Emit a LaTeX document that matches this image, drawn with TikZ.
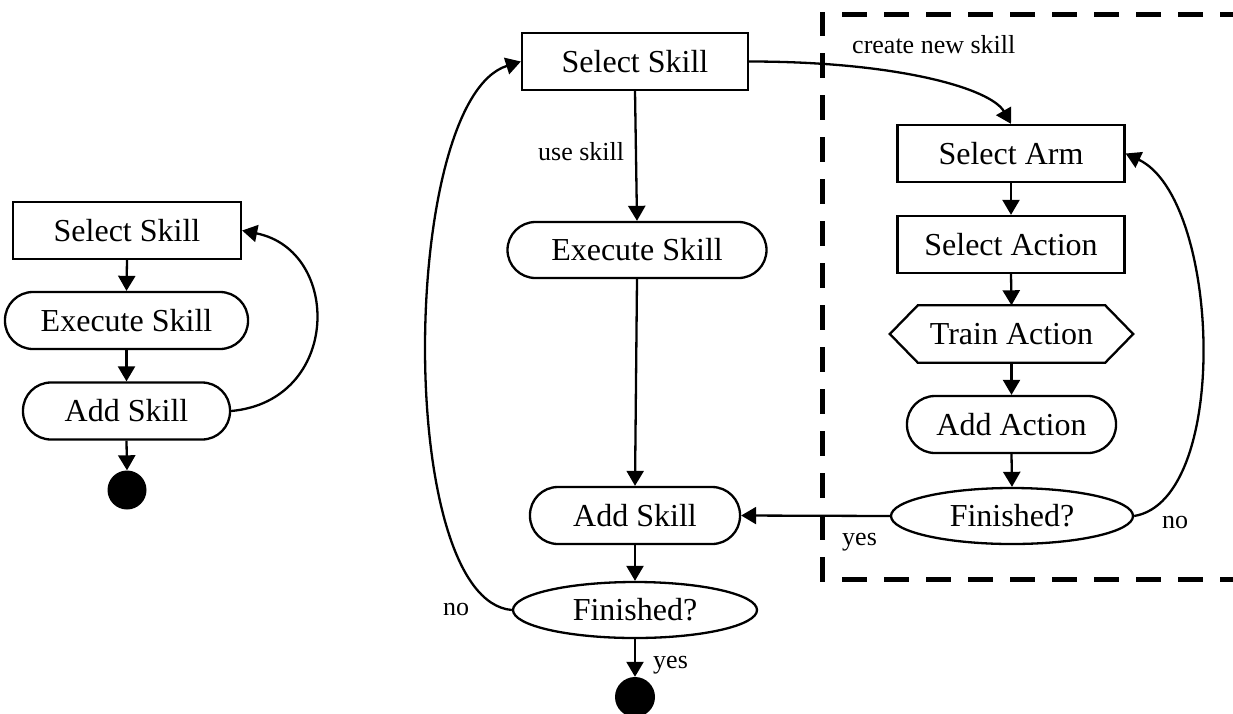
\documentclass[tikz,border=0pt]{standalone}
\usepackage{fontspec}
\setmainfont{Liberation Serif}
\usetikzlibrary{arrows.meta,shapes.geometric}
\begin{document}
\begin{tikzpicture}[x=1pt,y=-1pt,
  every node/.style={font=\fontsize{32}{38}\selectfont, inner sep=0pt},
  box/.style={draw, line width=2.3pt, minimum width=227pt, minimum height=57pt},
  pill/.style={box, rounded corners=28pt},
  oval/.style={draw, ellipse, line width=2.3pt, minimum width=244pt, minimum height=56pt},
  flow/.style={line width=2.3pt, -{Triangle[length=15pt,width=17pt]}},
  lbl/.style={font=\fontsize{26}{30}\selectfont, anchor=base west},
  stopdot/.style={circle, fill=black, minimum size=39pt}
]
\useasboundingbox (0,0) rectangle (1233,713);

% simple loop
\node[box, minimum width=228pt] (lsel) at (127,230.5) {Select Skill};
\node[pill, minimum width=243pt] (lexe) at (126.5,320.5) {Execute Skill};
\node[pill, minimum width=207pt] (ladd) at (126.5,411) {Add Skill};
\node[stopdot] (lend) at (127,490) {};

\draw[flow] (lsel.south) -- (lexe.north);
\draw[flow] (lexe.south) -- (ladd.north);
\draw[flow] (ladd.south) -- (lend.north);
\draw[flow] (ladd.east) .. controls +(110,-10) and +(100,20) .. (lsel.east);

% main skill loop
\node[box, minimum width=226pt] (sel) at (635,61.5) {Select Skill};
\node[pill, minimum width=259pt, minimum height=56pt] (exe) at (637,250) {Execute Skill};
\node[pill, minimum width=210pt] (add) at (635,515.5) {Add Skill};
\node[oval] (fin) at (635,610) {Finished?};
\node[stopdot, minimum size=40pt] (end) at (635,697) {};

\draw[flow] (sel.south) -- (exe.north);
\draw[flow] (exe.south) -- (add.north);
\draw[flow] (add.south) -- (fin.north);
\draw[flow] (fin.south) -- (end.north);
\draw[flow] (fin.west) .. controls +(-118,-10) and +(-121,38) .. (sel.west);

\node[lbl] (use) at (538,160) {use skill};
\node[lbl] (nomain) at (443,615) {no};
\node[lbl] (yesmain) at (653,668) {yes};

% skill creation region
\draw[line width=5pt, dash pattern=on 25pt off 17pt] (1245,14) -- (822,14) -- (822,579) -- (1245,579);

\node[box] (arm) at (1011,153.5) {Select Arm};
\node[box] (act) at (1011,244.5) {Select Action};
\node[minimum width=243pt, minimum height=57pt] (train) at (1011.5,334) {Train Action};
\draw[line width=2.3pt] (train.west) -- ([xshift=28pt]train.north west) -- ([xshift=-28pt]train.north east)
  -- (train.east) -- ([xshift=-28pt]train.south east) -- ([xshift=28pt]train.south west) -- cycle;
\node[pill, minimum width=209pt] (addact) at (1011.5,424.5) {Add Action};
\node[oval, minimum width=242pt] (afin) at (1012,516) {Finished?};

\draw[flow] (arm.south) -- (act.north);
\draw[flow] (act.south) -- (train.north);
\draw[flow] (train.south) -- (addact.north);
\draw[flow] (addact.south) -- (afin.north);
\draw[flow] (afin.west) -- (add.east);
\draw[flow] (afin.east) .. controls +(97,-16) and +(95,45) .. (arm.east);
\draw[flow] (sel.east) .. controls +(150,0) and +(-20,-35) .. (arm.north);

\node[lbl] (create) at (852,53) {create new skill};
\node[lbl] (yesarm) at (842,545) {yes};
\node[lbl] (noarm) at (1162,528) {no};
\end{tikzpicture}
\end{document}
